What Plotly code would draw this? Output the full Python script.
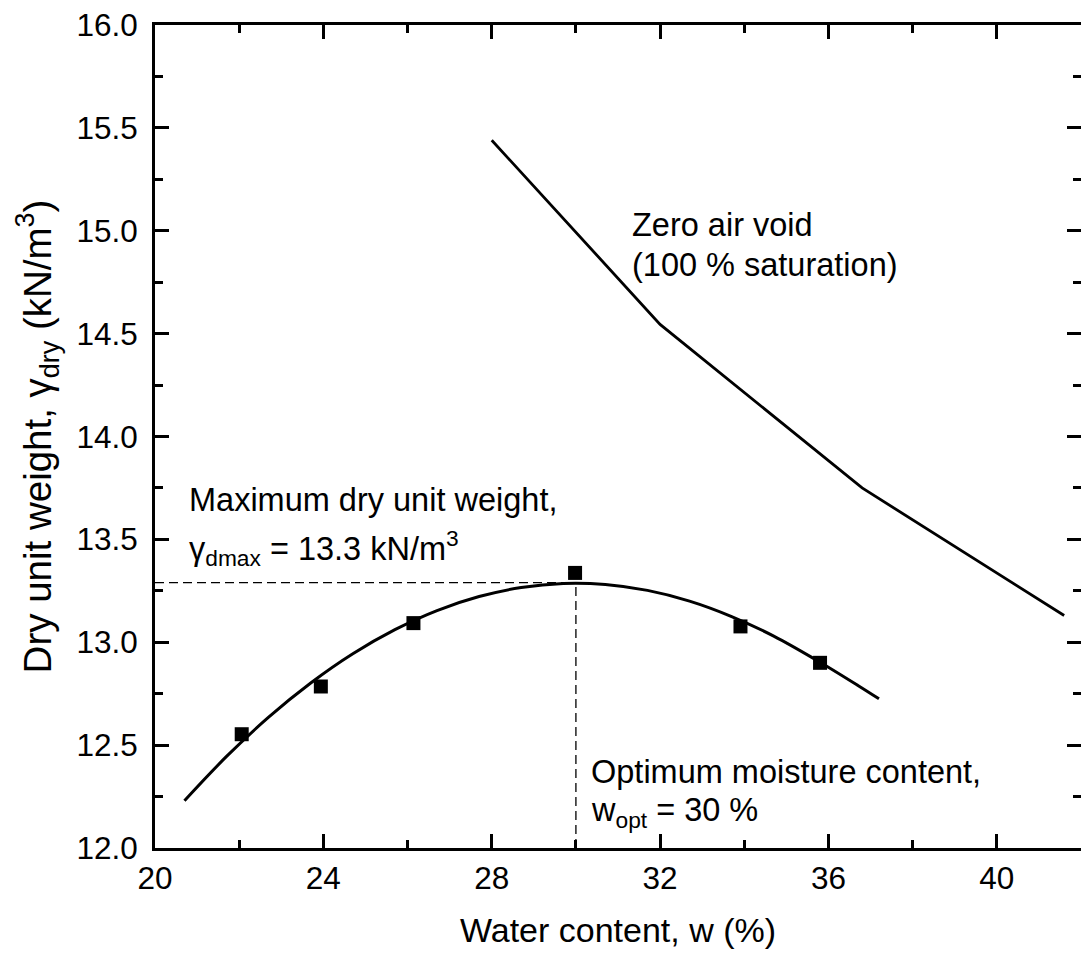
import plotly.graph_objects as go

# ---- data ----
w_measured = [22.06, 23.94, 26.14, 29.98, 33.91, 35.8]
gamma_measured = [12.553, 12.785, 13.093, 13.337, 13.077, 12.90]

fit_w = [20.7, 21.7, 22.7, 23.7, 24.7, 25.7, 26.7, 27.7, 28.7, 29.7,
         30.7, 31.7, 32.7, 33.7, 34.7, 35.7, 36.7, 37.2]
fit_gamma = [12.230, 12.445, 12.636, 12.802, 12.944, 13.061, 13.154, 13.222, 13.266, 13.286,
             13.281, 13.252, 13.200, 13.125, 13.030, 12.915, 12.790, 12.725]

zav_w = [28.0, 32.0, 36.8, 41.6]
zav_gamma = [15.44, 14.545, 13.75, 13.13]

w_opt = 30.0
gamma_dmax = 13.29

x_tickvals = [20, 24, 28, 32, 36, 40]
y_tickvals = [12.0, 12.5, 13.0, 13.5, 14.0, 14.5, 15.0, 15.5, 16.0]

FONT = "Liberation Sans, Arial, sans-serif"
BLACK = "#000000"

fig = go.Figure()

# dashed guide lines
fig.add_trace(go.Scatter(x=[20, w_opt], y=[gamma_dmax, gamma_dmax], mode="lines",
                         line=dict(color=BLACK, width=1.3, dash="9px,5px"),
                         hoverinfo="skip", showlegend=False))
fig.add_trace(go.Scatter(x=[w_opt, w_opt], y=[12, gamma_dmax], mode="lines",
                         line=dict(color=BLACK, width=1.3, dash="9px,5px"),
                         hoverinfo="skip", showlegend=False))

# compaction fit curve
fig.add_trace(go.Scatter(x=fit_w, y=fit_gamma, mode="lines", line_shape="spline",
                         line=dict(color=BLACK, width=3), showlegend=False))
# zero air void line
fig.add_trace(go.Scatter(x=zav_w, y=zav_gamma, mode="lines",
                         line=dict(color=BLACK, width=2.8), showlegend=False))
# measured points
fig.add_trace(go.Scatter(x=w_measured, y=gamma_measured, mode="markers",
                         marker=dict(symbol="square", size=14, color=BLACK,
                                     line=dict(width=0)),
                         showlegend=False))

ann_font = dict(family=FONT, size=32.5, color=BLACK)
annotations = [
    dict(x=31.28, y=15.027, text="Zero air void"),
    dict(x=31.28, y=14.832, text="(100 % saturation)"),
    dict(x=20.76, y=13.691, text="Maximum dry unit weight,"),
    dict(x=20.76, y=13.458, text="γ<sub>dmax</sub> = 13.3 kN/m<sup>3</sup>"),
    dict(x=30.3, y=12.367, text="Optimum moisture content,"),
    dict(x=30.3, y=12.173, text="w<sub>opt</sub> = 30 %"),
]
for a in annotations:
    fig.add_annotation(x=a["x"], y=a["y"], text=a["text"], xref="x", yref="y",
                       xanchor="left", yanchor="middle", showarrow=False,
                       font=ann_font)

axis_common = dict(
    showline=True, linecolor=BLACK, linewidth=2.6, mirror="ticks",
    ticks="inside", ticklen=14, tickwidth=2.6, tickcolor=BLACK,
    showgrid=False, zeroline=False,
    tickfont=dict(family=FONT, size=31.5, color=BLACK),
)

fig.update_xaxes(
    range=[20, 42], tickvals=x_tickvals, ticktext=[str(v) for v in x_tickvals],
    minor=dict(dtick=2, tick0=20, ticks="inside", ticklen=8, tickwidth=2.6,
               tickcolor=BLACK, showgrid=False),
    ticklabelstandoff=0,
    title=dict(text="Water content, w (%)", font=dict(family=FONT, size=34, color=BLACK),
               standoff=24),
    **axis_common,
)
fig.update_yaxes(
    range=[12, 16], tickvals=y_tickvals, ticktext=[f"{v:.1f}" for v in y_tickvals],
    minor=dict(dtick=0.25, tick0=12, ticks="inside", ticklen=8, tickwidth=2.6,
               tickcolor=BLACK, showgrid=False),
    ticklabelstandoff=8,
    title=dict(text="Dry unit weight, γ<sub>dry</sub> (kN/m<sup>3</sup>)",
               font=dict(family=FONT, size=38.5, color=BLACK), standoff=14),
    **axis_common,
)

fig.update_layout(
    width=1081, height=958,
    margin=dict(l=155, r=0, t=25, b=110, autoexpand=False),
    plot_bgcolor="white", paper_bgcolor="white",
    showlegend=False,
    font=dict(family=FONT, color=BLACK),
)

fig.write_html("out.html")
